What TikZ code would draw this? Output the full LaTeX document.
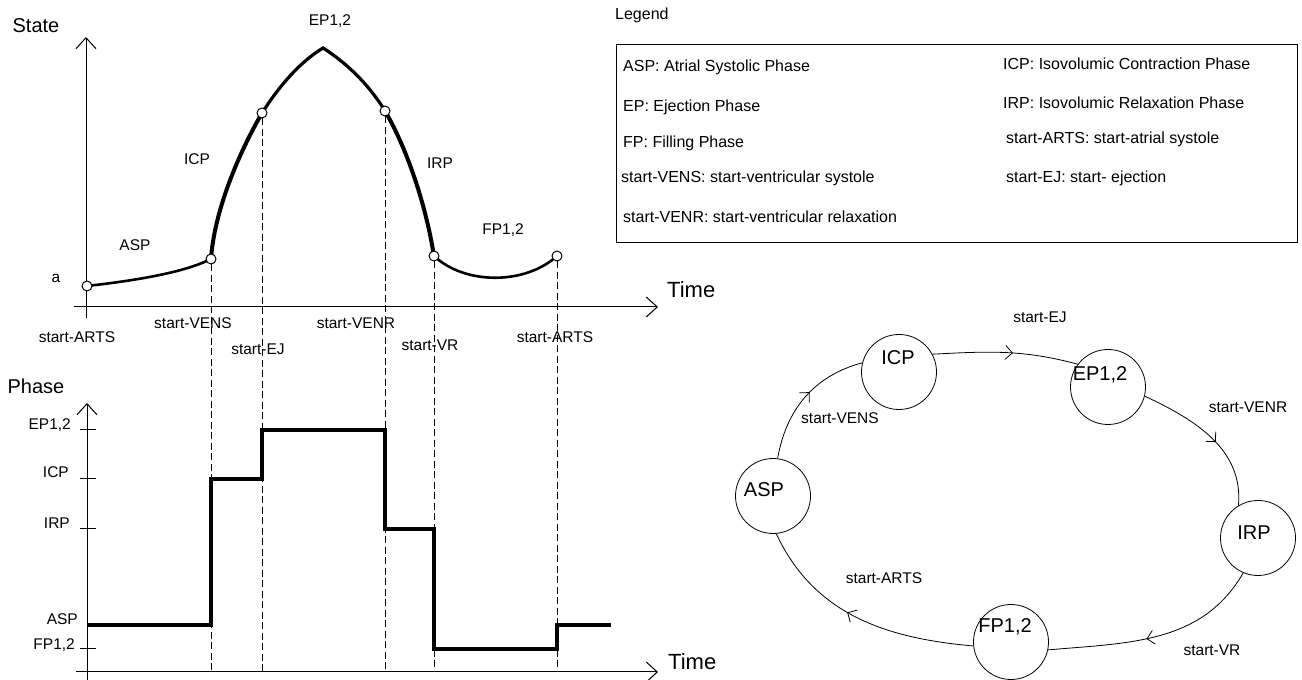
\documentclass[tikz,border=0pt]{standalone}
\usepackage{fontspec}
\setmainfont{Liberation Sans}
\usetikzlibrary{arrows.meta,decorations.markings}
\tikzset{
  lbl/.style={font=\fontsize{15.5}{17}\selectfont,inner sep=0pt},
  axtitle/.style={font=\fontsize{20}{22}\selectfont,inner sep=0pt},
  timelbl/.style={font=\fontsize{22}{24}\selectfont,inner sep=0pt,anchor=base west},
  leg/.style={font=\fontsize{16}{18}\selectfont,inner sep=0pt,anchor=west},
  axisline/.style={line width=1pt,-{Straight Barb[length=11pt,width=20pt]}},
  guide/.style={line width=0.9pt,dash pattern=on 7pt off 3.5pt},
  slow/.style={line width=2.6pt},
  fast/.style={line width=4pt},
  stepline/.style={line width=3.5pt},
  tickmark/.style={line width=1pt},
  knot/.style={circle,draw,fill=white,line width=1pt,minimum size=10pt,inner sep=0pt},
  phase/.style={circle,draw,line width=0.8pt,minimum size=75pt,inner sep=0pt},
  phasetxt/.style={font=\fontsize{20}{22}\selectfont,inner sep=0pt},
  trans/.style={line width=0.8pt,postaction={decorate},decoration={markings,
    mark=at position 0.55 with {\arrow{Straight Barb[length=7pt,width=14pt]}}}}
}
\begin{document}
\begin{tikzpicture}[x=1pt,y=1pt]
\useasboundingbox (0,0) rectangle (1302,680);
\draw[axisline] (86,362) -- (86,643);
\draw[axisline] (74,373) -- (658,373);
\node[axtitle] (state) at (36,654) {State};
\node[timelbl] (time1) at (667,382) {Time};
\node[lbl] (avalue) at (56,402) {a};
\coordinate (p0) at (87,394); \coordinate (p1) at (211,421); \coordinate (p2) at (262,567);
\coordinate (peak) at (323,632); \coordinate (p3) at (385,569); \coordinate (p4) at (434,424);
\coordinate (p5) at (557,424);
\draw[slow] (p0) .. controls (140,400) and (185,408) .. (p1);
\draw[fast] (p1) .. controls (214,465) and (235,520) .. (p2);
\draw[slow,line width=3.2pt] (p2) .. controls (280,595) and (300,618) .. (peak)
  .. controls (345,618) and (368,597) .. (p3);
\draw[fast] (p3) .. controls (405,535) and (425,480) .. (p4);
\draw[slow] (p4) .. controls (465,395) and (525,395) .. (p5);
\node[knot] (k0) at (p0) {}; \node[knot] (k1) at (p1) {}; \node[knot] (k2) at (p2) {};
\node[knot] (k3) at (p3) {}; \node[knot] (k4) at (p4) {}; \node[knot] (k5) at (p5) {};
\node[lbl] (epstate) at (330,659) {EP1,2};
\node[lbl] (icpstate) at (197,521) {ICP};
\node[lbl] (aspstate) at (135,435) {ASP};
\node[lbl] (irpstate) at (440,517) {IRP};
\node[lbl] (fpstate) at (503,450) {FP1,2};
\node[lbl] (arts1) at (77,343) {start-ARTS};
\node[lbl] (vens) at (193,357) {start-VENS};
\node[lbl] (ej) at (258,331) {start-EJ};
\node[lbl] (venr) at (356,357) {start-VENR};
\node[lbl] (vr) at (430,335) {start-VR};
\node[lbl] (arts2) at (555,343) {start-ARTS};

\coordinate (base) at (0,8);
\draw[guide] (k1.south) -- (k1 |- base); \draw[guide] (k2.south) -- (k2 |- base);
\draw[guide] (k3.south) -- (k3 |- base); \draw[guide] (k4.south) -- (k4 |- base);
\draw[guide] (k5.south) -- (k5 |- base);
\draw[axisline] (87,0) -- (87,277);
\draw[axisline] (76,8) -- (658,8);
\node[axtitle] (phasettl) at (36,294) {Phase};
\node[timelbl] (time2) at (668,10) {Time};
\coordinate (lep) at (87,250); \coordinate (licp) at (87,201); \coordinate (lirp) at (87,151);
\coordinate (lasp) at (87,55); \coordinate (lfp) at (87,31);
\draw[tickmark] (80,250) -- (96,250); \draw[tickmark] (80,201) -- (96,201);
\draw[tickmark] (80,151) -- (96,151); \draw[tickmark] (80,31) -- (96,31);
\node[lbl,anchor=base east] (eplvl) at (71,250) {EP1,2};
\node[lbl,anchor=base east] (icplvl) at (69,202) {ICP};
\node[lbl,anchor=base east] (irplvl) at (70,151) {IRP};
\node[lbl,anchor=base east] (asplvl) at (78,55) {ASP};
\node[lbl,anchor=base east] (fplvl) at (75,30) {FP1,2};
\draw[stepline] (lasp) -- (k1 |- lasp) -- (k1 |- licp) -- (k2 |- licp) -- (k2 |- lep)
  -- (k3 |- lep) -- (k3 |- lirp) -- (k4 |- lirp) -- (k4 |- lfp) -- (k5 |- lfp)
  -- (k5 |- lasp) -- (611,55);

\node[leg] (legtitle) at (615,665) {Legend};
\draw[line width=1pt] (616,437) rectangle (1297,635);
\node[leg] (l1) at (623,613) {ASP: Atrial Systolic Phase};
\node[leg] (l2) at (623,573) {EP: Ejection Phase};
\node[leg] (l3) at (623,537) {FP: Filling Phase};
\node[leg] (l4) at (621,502) {start-VENS: start-ventricular systole};
\node[leg] (l5) at (623,463) {start-VENR: start-ventricular relaxation};
\node[leg] (r1) at (1003,616) {ICP: Isovolumic Contraction Phase};
\node[leg] (r2) at (1003,577) {IRP: Isovolumic Relaxation Phase};
\node[leg] (r3) at (1006,541) {start-ARTS: start-atrial systole};
\node[leg] (r4) at (1006,502) {start-EJ: start- ejection};

\node[phase] (icp) at (899,308) {};
\node[phase] (asp) at (773,184) {};
\node[phase] (fp) at (1011,38) {};
\node[phase] (ep) at (1108,293) {};
\node[phase] (irp) at (1258,142) {};
\node[phasetxt] (icptxt) at (898,322) {ICP};
\node[phasetxt] (asptxt) at (764,190) {ASP};
\node[phasetxt] (fptxt) at (1005,53) {FP1,2};
\node[phasetxt] (eptxt) at (1100,305) {EP1,2};
\node[phasetxt] (irptxt) at (1254,147) {IRP};
\draw[trans] (asp.83) to[out=80,in=195] (icp.166);
\draw[trans] (icp.28) to[out=3,in=165] (ep.143);
\draw[trans] (ep.-14) to[out=-25,in=85] (irp.121);
\draw[trans] (irp.-113) to[out=-120,in=5] (fp.-12);
\draw[trans] (fp.186) to[out=175,in=-65] (asp.-85);
\node[lbl] (tej) at (1040,363) {start-EJ};
\node[lbl] (tvenr) at (1248,273) {start-VENR};
\node[lbl] (tvr) at (1212,30) {start-VR};
\node[lbl] (tarts) at (884,102) {start-ARTS};
\node[lbl] (tvens) at (840,262) {start-VENS};
\end{tikzpicture}
\end{document}
